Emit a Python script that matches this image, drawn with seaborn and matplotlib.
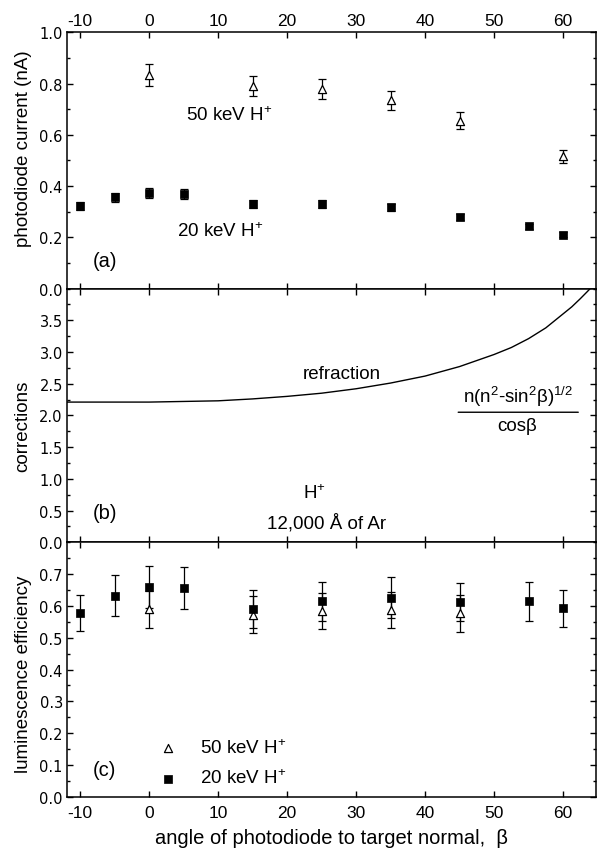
import matplotlib
matplotlib.use("Agg")
import matplotlib.pyplot as plt
from matplotlib.ticker import MultipleLocator, NullLocator
import seaborn as sns

# (a) photodiode current (nA) vs angle
angle_50 = [0, 15, 25, 35, 45, 60]
current_50 = [0.834, 0.792, 0.779, 0.736, 0.655, 0.516]
current_50_err = [0.042, 0.039, 0.038, 0.037, 0.033, 0.025]

angle_20 = [-10, -5, 0, 5, 15, 25, 35, 45, 55, 60]
current_20 = [0.321, 0.356, 0.372, 0.369, 0.330, 0.330, 0.317, 0.280, 0.243, 0.210]
current_20_err = [0.015, 0.018, 0.020, 0.020, 0.015, 0.015, 0.015, 0.012, 0.010, 0.010]

# (b) refraction correction
refr_angle = [-12, -10, -5, 0, 5, 10, 15, 20, 25, 30, 35, 40, 45, 50, 52.5, 55,
              57.5, 60, 61.25, 62.5, 63.5, 64.2]
refr_value = [2.21, 2.21, 2.21, 2.21, 2.22, 2.23, 2.26, 2.30, 2.35, 2.42, 2.51, 2.62,
              2.77, 2.96, 3.07, 3.21, 3.38, 3.60, 3.71, 3.84, 3.95, 4.03]

# (c) luminescence efficiency
lum_angle_50 = [0, 15, 25, 35, 45]
lum_50 = [0.590, 0.572, 0.584, 0.587, 0.577]
lum_50_err = [0.058, 0.058, 0.058, 0.058, 0.058]

lum_angle_20 = [-10, -5, 0, 5, 15, 25, 35, 45, 55, 60]
lum_20 = [0.577, 0.632, 0.658, 0.656, 0.590, 0.614, 0.626, 0.611, 0.614, 0.593]
lum_20_err = [0.057, 0.064, 0.066, 0.066, 0.061, 0.061, 0.064, 0.060, 0.061, 0.058]

x_ticks = [-10, 0, 10, 20, 30, 40, 50, 60]

sns.set_style("ticks")
plt.rcParams["font.family"] = ["Liberation Sans", "DejaVu Sans"]
plt.rcParams["mathtext.fontset"] = "custom"
plt.rcParams["mathtext.rm"] = "Liberation Sans"
plt.rcParams["mathtext.it"] = "Liberation Sans:italic"
plt.rcParams["axes.linewidth"] = 1.1
plt.rcParams["axes.edgecolor"] = "black"
plt.rcParams["axes.unicode_minus"] = False
for key in ("text.color", "axes.labelcolor", "xtick.color", "ytick.color"):
    plt.rcParams[key] = "black"

fig = plt.figure(figsize=(5.97, 8.54), dpi=100)
left, width = 0.1122, 0.8853
ax_a = fig.add_axes([left, 0.6610, width, 0.2998])
ax_b = fig.add_axes([left, 0.3638, width, 0.2972])
ax_c = fig.add_axes([left, 0.0659, width, 0.2979])

txt = 13.5
ebar = dict(fmt="none", ecolor="black", elinewidth=0.9, capsize=2.8, capthick=0.9, zorder=2)


def draw_points(ax, xa, ya, ea, xs, ys, es):
    ax.errorbar(xa, ya, yerr=ea, **ebar)
    ax.errorbar(xs, ys, yerr=es, **ebar)
    sns.scatterplot(x=xa, y=ya, marker="^", s=34, color="white", edgecolor="black",
                    linewidth=0.9, ax=ax, zorder=3, label="50 keV H$^{+}$")
    sns.scatterplot(x=xs, y=ys, marker="s", s=30, color="black", edgecolor="black",
                    linewidth=0.5, ax=ax, zorder=4, label="20 keV H$^{+}$")


# panel (a)
draw_points(ax_a, angle_50, current_50, current_50_err, angle_20, current_20, current_20_err)
ax_a.get_legend().remove()
ax_a.set_ylim(0, 1.0)
ax_a.set_yticks([0.0, 0.2, 0.4, 0.6, 0.8, 1.0])
ax_a.yaxis.set_minor_locator(MultipleLocator(0.1))
ax_a.text(5.4, 0.678, "50 keV H$^{+}$", fontsize=txt, va="center", ha="left")
ax_a.text(4.1, 0.226, "20 keV H$^{+}$", fontsize=txt, va="center", ha="left")
ax_a.text(-8.2, 0.109, "(a)", fontsize=txt + 1, va="center", ha="left")
ax_a.set_ylabel("photodiode current (nA)", fontsize=13.5)
ax_a.yaxis.set_label_coords(-0.067, 0.55)

# panel (b)
sns.lineplot(x=refr_angle, y=refr_value, color="black", linewidth=1.0, ax=ax_b)
ax_b.set_ylim(0, 4.0)
ax_b.set_yticks([0.0, 0.5, 1.0, 1.5, 2.0, 2.5, 3.0, 3.5])
ax_b.yaxis.set_minor_locator(MultipleLocator(0.25))
ax_b.text(27.9, 2.66, "refraction", fontsize=txt, ha="center", va="center")
ax_b.text(53.4, 2.31, "n(n$^{2}$-sin$^{2}$\u03b2)$^{1/2}$", fontsize=txt, ha="center", va="center")
ax_b.annotate("", xy=(62.2, 2.05), xytext=(44.8, 2.05),
              arrowprops=dict(arrowstyle="-", color="black", lw=1.0, shrinkA=0, shrinkB=0))
ax_b.text(53.4, 1.84, "cos\u03b2", fontsize=txt, ha="center", va="center")
ax_b.text(23.9, 0.79, "H$^{+}$", fontsize=txt, ha="center", va="center")
ax_b.text(25.7, 0.32, "12,000 \u00c5 of Ar", fontsize=txt, ha="center", va="center")
ax_b.text(-8.2, 0.47, "(b)", fontsize=txt + 1, va="center", ha="left")
ax_b.set_ylabel("corrections", fontsize=13.5)
ax_b.yaxis.set_label_coords(-0.067, 0.46)

# panel (c)
draw_points(ax_c, lum_angle_50, lum_50, lum_50_err, lum_angle_20, lum_20, lum_20_err)
ax_c.set_ylim(0, 0.8)
ax_c.set_yticks([0.0, 0.1, 0.2, 0.3, 0.4, 0.5, 0.6, 0.7])
ax_c.yaxis.set_minor_locator(MultipleLocator(0.05))
ax_c.legend(loc="center left", bbox_to_anchor=(1.4, 0.107), bbox_transform=ax_c.transData,
            frameon=False, fontsize=txt, handlelength=1.0, handletextpad=1.2,
            labelspacing=0.65, borderpad=0, borderaxespad=0, scatterpoints=1)
ax_c.text(-8.2, 0.086, "(c)", fontsize=txt + 1, va="center", ha="left")
ax_c.set_ylabel("luminescence efficiency", fontsize=13.5)
ax_c.yaxis.set_label_coords(-0.067, 0.486)
ax_c.set_xlabel("angle of photodiode to target normal,  \u03b2", fontsize=14.5, labelpad=6)

for ax in (ax_a, ax_b, ax_c):
    ax.set_xlim(-11.9, 64.7)
    ax.set_xticks(x_ticks)
    ax.xaxis.set_minor_locator(NullLocator())
    ax.tick_params(which="both", direction="in", top=True, right=True, width=1.0, color="black")
    ax.tick_params(which="major", length=4.5)
    ax.tick_params(which="minor", length=2.5)
    ax.tick_params(axis="x", labelsize=12.5, labelbottom=False, labeltop=False)
    ax.tick_params(axis="y", labelsize=10.5, pad=3)
    for lab in ax.get_yticklabels():
        lab.set_family("DejaVu Sans")

ax_a.tick_params(axis="x", labeltop=True, pad=3)
ax_c.tick_params(axis="x", labelbottom=True, pad=6)

fig.savefig("out.png", dpi=100)
